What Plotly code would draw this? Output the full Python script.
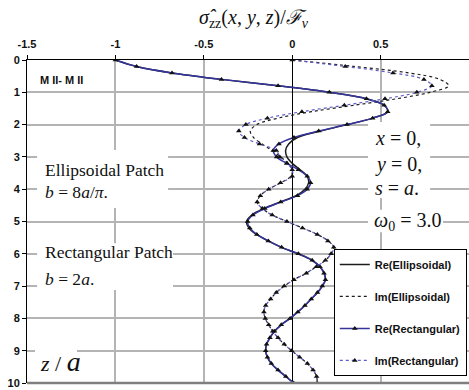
import plotly.graph_objects as go

# Depth below the surface, z/a
depth = [0.0, 0.2, 0.4, 0.6, 0.8, 1.0, 1.2, 1.4, 1.6, 1.8,
         2.0, 2.2, 2.4, 2.6, 2.8, 3.0, 3.2, 3.4, 3.6, 3.8,
         4.0, 4.2, 4.4, 4.6, 4.8, 5.0, 5.2, 5.4, 5.6, 5.8,
         6.0, 6.2, 6.4, 6.6, 6.8, 7.0, 7.2, 7.4, 7.6, 7.8,
         8.0, 8.2, 8.4, 8.6, 8.8, 9.0, 9.2, 9.4, 9.6, 9.8, 10.0]

# Normalised normal stress, ellipsoidal patch
re_ellip = [-1.000, -0.880, -0.680, -0.400, -0.080, 0.210, 0.420, 0.520, 0.540, 0.455,
            0.310, 0.160, 0.030, -0.020, -0.037, -0.030, 0.000, 0.045, 0.085, 0.093,
            0.072, 0.022, -0.070, -0.160, -0.228, -0.258, -0.245, -0.202, -0.136, -0.060,
            0.033, 0.112, 0.157, 0.181, 0.188, 0.170, 0.143, 0.108, 0.072, 0.032,
            -0.012, -0.062, -0.100, -0.126, -0.145, -0.150, -0.140, -0.118, -0.080, -0.036, 0.008]
im_ellip = [0.000, 0.350, 0.660, 0.835, 0.885, 0.780, 0.590, 0.350, 0.110, -0.080,
            -0.200, -0.237, -0.218, -0.170, -0.115, -0.065, -0.025, 0.000, -0.008, -0.065,
            -0.133, -0.180, -0.198, -0.168, -0.113, -0.030, 0.058, 0.142, 0.202, 0.235,
            0.220, 0.188, 0.136, 0.080, 0.010, -0.045, -0.090, -0.122, -0.150, -0.160,
            -0.152, -0.133, -0.110, -0.080, -0.045, -0.003, 0.042, 0.086, 0.118, 0.138, 0.141]

# Normalised normal stress, rectangular patch
re_rect = [-1.000, -0.880, -0.680, -0.400, -0.080, 0.210, 0.420, 0.520, 0.540, 0.455,
           0.310, 0.150, 0.010, -0.075, -0.107, -0.088, -0.030, 0.035, 0.085, 0.104,
           0.085, 0.030, -0.065, -0.155, -0.222, -0.252, -0.240, -0.200, -0.135, -0.060,
           0.035, 0.113, 0.157, 0.180, 0.188, 0.170, 0.143, 0.108, 0.072, 0.032,
           -0.012, -0.062, -0.100, -0.126, -0.145, -0.150, -0.140, -0.118, -0.080, -0.036, 0.008]
im_rect = [0.000, 0.300, 0.570, 0.745, 0.790, 0.705, 0.525, 0.295, 0.055, -0.140,
           -0.262, -0.302, -0.270, -0.185, -0.090, -0.070, -0.030, 0.000, 0.000, -0.066,
           -0.133, -0.180, -0.198, -0.168, -0.113, -0.030, 0.058, 0.142, 0.202, 0.235,
           0.220, 0.188, 0.136, 0.080, 0.010, -0.045, -0.090, -0.122, -0.150, -0.160,
           -0.152, -0.133, -0.110, -0.080, -0.045, -0.003, 0.042, 0.086, 0.118, 0.138, 0.141]

x_ticks = [-1.5, -1, -0.5, 0, 0.5, 1]
x_tick_text = ["<b>-1.5</b>", "<b>-1</b>", "<b>-0.5</b>", "<b>0</b>", "<b>0.5</b>", "<b>1</b>"]
z_ticks = [0, 1, 2, 3, 4, 5, 6, 7, 8, 9, 10]
z_tick_text = ["<b>%d</b>" % v for v in z_ticks]

SANS = "Liberation Sans"
SERIF = "Liberation Serif"

fig = go.Figure()

fig.add_trace(go.Scatter(
    x=re_ellip, y=depth, mode="lines", name="<b>Re(Ellipsoidal)</b>", legendgroup="g1",
    line=dict(color="#1c1c1c", width=1.5, shape="spline")))
fig.add_trace(go.Scatter(
    x=im_ellip, y=depth, mode="lines", name="<b>Im(Ellipsoidal)</b>", legendgroup="g2",
    line=dict(color="#1c1c1c", width=1.2, dash="dot", shape="spline")))
fig.add_trace(go.Scatter(
    x=re_rect, y=depth, mode="lines+markers", name="<b>Re(Rectangular)</b>", legendgroup="g3",
    line=dict(color="#34349c", width=1.5, shape="spline"),
    marker=dict(symbol="triangle-up", size=5, color="#111111")))
fig.add_trace(go.Scatter(
    x=im_rect, y=depth, mode="lines+markers", name="<b>Im(Rectangular)</b>", legendgroup="g4",
    line=dict(color="#5c5cc8", width=1.2, dash="dot", shape="spline"),
    marker=dict(symbol="triangle-up", size=5, color="#111111")))

# white backing panels behind the in-plot labels (above grid, below data)
panels = [
    (-1.443, -0.702, 2.79, 4.58),
    (-1.443, -0.674, 5.67, 7.12),
    (-1.455, -1.217, 8.70, 9.90),
    (0.429, 0.780, 1.92, 4.27),
    (0.429, 0.853, 4.64, 5.33),
]
shapes = [dict(type="rect", xref="x", yref="y", x0=a, x1=b, y0=c, y1=d,
               fillcolor="white", line=dict(width=0), layer="between")
          for a, b, c, d in panels]
# plot-area border along the bottom
shapes.append(dict(type="line", xref="paper", yref="paper", x0=0, x1=1, y0=0, y1=0,
                   line=dict(color="#7f7f7f", width=2.5)))

def serif_note(text, x, y, size):
    return dict(text=text, x=x, y=y, xref="x", yref="y", xanchor="left",
                yanchor="middle", showarrow=False, align="left",
                font=dict(family=SERIF, size=size, color="#111111"))

annotations = [
    dict(text="<i>σ̂</i><sub>zz</sub>(<i>x</i>, <i>y</i>, <i>z</i>)/<i>ℱ</i><sub><i>v</i></sub>",
         x=0.514, y=1.13, xref="paper", yref="paper", xanchor="center", yanchor="middle",
         showarrow=False, font=dict(family=SERIF, size=20, color="#111111")),
    dict(text="<b>M II- M II</b>", x=-1.44, y=0.62, xref="x", yref="y", xanchor="left",
         yanchor="middle", showarrow=False,
         font=dict(family=SANS, size=11, color="#111111")),
    serif_note("Ellipsoidal Patch", -1.41, 3.41, 17.5),
    serif_note("<i>b</i> = 8<i>a</i>/<i>π</i>.", -1.41, 4.09, 17.5),
    serif_note("Rectangular Patch", -1.41, 5.94, 17.5),
    serif_note("<i>b</i> = 2<i>a</i>.", -1.41, 6.78, 17.5),
    serif_note('<i>z</i> / <span style="font-size:28px"><i>a</i></span>', -1.44, 9.32, 22),
    serif_note("<i>x</i> = 0,", 0.457, 2.43, 20),
    serif_note("<i>y</i> = 0,", 0.457, 3.22, 20),
    serif_note("<i>s</i> = <i>a</i>.", 0.457, 3.96, 20),
    serif_note("<i>ω</i><sub>0</sub> = 3.0", 0.452, 5.0, 20),
]

fig.update_layout(
    width=469, height=390,
    margin=dict(l=27, r=0, t=60, b=7),
    paper_bgcolor="white", plot_bgcolor="white",
    showlegend=True,
    legend=dict(x=0.995, y=0.415, xanchor="right", yanchor="top",
                bgcolor="white", bordercolor="#000000", borderwidth=1,
                font=dict(family=SANS, size=11, color="#111111"),
                tracegroupgap=13, itemwidth=30),
    shapes=shapes,
    annotations=annotations,
    xaxis=dict(side="top", range=[-1.5, 1.0], tickvals=x_ticks, ticktext=x_tick_text,
               tickfont=dict(family=SANS, size=11, color="#111111"),
               showgrid=True, gridcolor="#b4b4b4", gridwidth=1.5,
               zeroline=True, zerolinecolor="#000000", zerolinewidth=1,
               showline=True, linecolor="#000000", linewidth=1,
               ticks="outside", ticklen=4, tickcolor="#000000", ticklabelstandoff=3),
    yaxis=dict(range=[10, 0], tickvals=z_ticks, ticktext=z_tick_text,
               tickfont=dict(family=SANS, size=11, color="#111111"),
               showgrid=True, gridcolor="#b4b4b4", gridwidth=1.5,
               zeroline=False, showline=True, linecolor="#000000", linewidth=1,
               ticks="outside", ticklen=4, tickcolor="#000000"),
)

fig.write_html("out.html")
